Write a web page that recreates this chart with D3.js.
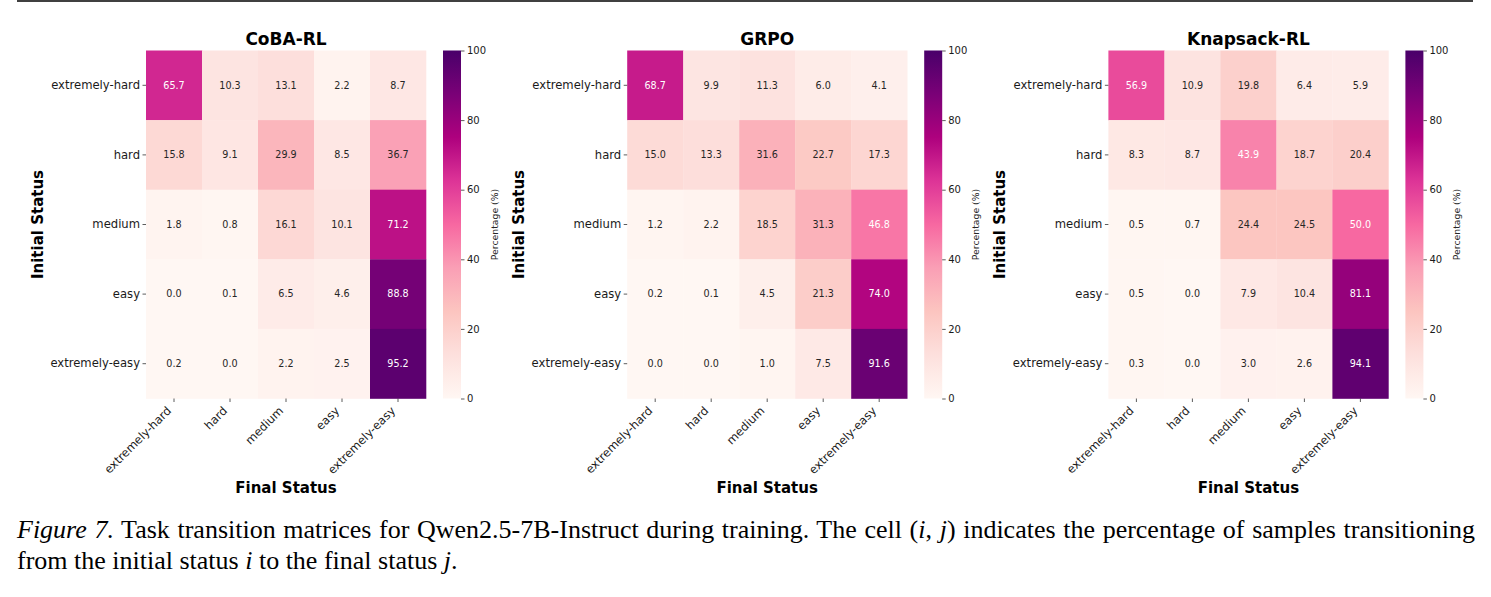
<!DOCTYPE html>
<html>
<head>
<meta charset="utf-8">
<script src="https://cdn.jsdelivr.net/npm/d3@7"></script>
<style>
  body { margin: 0; background: #fff; }
  svg { display: block; }
  .tick text { font-family: "DejaVu Sans", sans-serif; fill: #1a1a1a; }
  .tick line { stroke: #333; stroke-width: 0.8; }
</style>
</head>
<body>
<div id="chart"></div>
<script>
// ============== Data ==============
const statuses = ['extremely-hard', 'hard', 'medium', 'easy', 'extremely-easy'];
const methods = ['CoBA-RL', 'GRPO', 'Knapsack-RL'];

const cobaValues = [
  [65.7, 10.3, 13.1, 2.2, 8.7],
  [15.8, 9.1, 29.9, 8.5, 36.7],
  [1.8, 0.8, 16.1, 10.1, 71.2],
  [0.0, 0.1, 6.5, 4.6, 88.8],
  [0.2, 0.0, 2.2, 2.5, 95.2]
];
const grpoValues = [
  [68.7, 9.9, 11.3, 6.0, 4.1],
  [15.0, 13.3, 31.6, 22.7, 17.3],
  [1.2, 2.2, 18.5, 31.3, 46.8],
  [0.2, 0.1, 4.5, 21.3, 74.0],
  [0.0, 0.0, 1.0, 7.5, 91.6]
];
const knapsackValues = [
  [56.9, 10.9, 19.8, 6.4, 5.9],
  [8.3, 8.7, 43.9, 18.7, 20.4],
  [0.5, 0.7, 24.4, 24.5, 50.0],
  [0.5, 0.0, 7.9, 10.4, 81.1],
  [0.3, 0.0, 3.0, 2.6, 94.1]
];
const colorTicks = [0, 20, 40, 60, 80, 100];
const rdPu = ['#fff7f3', '#fde0dd', '#fcc5c0', '#fa9fb5', '#f768a1', '#dd3497', '#ae017e', '#7a0177', '#49006a'];

const matrices = [cobaValues, grpoValues, knapsackValues];

// ============== SVG ==============
const W = 1491, H = 597;
const svg = d3.select('#chart').append('svg')
  .attr('width', W)
  .attr('height', H);

// top rule
svg.append('line')
  .attr('x1', 17).attr('x2', 1473)
  .attr('y1', 1).attr('y2', 1)
  .attr('stroke', '#000')
  .attr('stroke-width', 1.6);

// ============== Colour ==============
const color = d3.scaleLinear()
  .domain(rdPu.map((c, i) => i * 100 / (rdPu.length - 1)))
  .range(rdPu)
  .interpolate(d3.interpolateRgb)
  .clamp(true);

function luminance(c) {
  const rgb = d3.rgb(c);
  const lin = v => {
    v /= 255;
    return v <= 0.03928 ? v / 12.92 : Math.pow((v + 0.055) / 1.055, 2.4);
  };
  return 0.2126 * lin(rgb.r) + 0.7152 * lin(rgb.g) + 0.0722 * lin(rgb.b);
}

const defs = svg.append('defs');
const grad = defs.append('linearGradient')
  .attr('id', 'cbar')
  .attr('x1', 0).attr('x2', 0)
  .attr('y1', 1).attr('y2', 0);
grad.selectAll('stop')
  .data(rdPu)
  .enter()
  .append('stop')
  .attr('offset', (d, i) => i / (rdPu.length - 1))
  .attr('stop-color', d => d);

// ============== Panels ==============
const gridTop = 50.5, gridBottom = 398.5, gridW = 280;
const firstLeft = 146, step = 481.2;

methods.forEach((name, p) => {
  const x0 = firstLeft + p * step;
  const values = matrices[p];

  const x = d3.scaleBand().domain(statuses).range([x0, x0 + gridW]);
  const y = d3.scaleBand().domain(statuses).range([gridTop, gridBottom]);

  const g = svg.append('g');

  const cells = [];
  values.forEach((row, i) => row.forEach((v, j) => cells.push({row: statuses[i], col: statuses[j], v})));

  g.selectAll('rect.cell')
    .data(cells)
    .enter()
    .append('rect')
    .attr('class', 'cell')
    .attr('x', d => x(d.col))
    .attr('y', d => y(d.row))
    .attr('width', x.bandwidth() + 0.3)
    .attr('height', y.bandwidth() + 0.3)
    .attr('fill', d => color(d.v));

  g.selectAll('text.annot')
    .data(cells)
    .enter()
    .append('text')
    .attr('class', 'annot')
    .attr('x', d => x(d.col) + x.bandwidth() / 2)
    .attr('y', d => y(d.row) + y.bandwidth() / 2)
    .attr('dy', '0.35em')
    .attr('text-anchor', 'middle')
    .style('font-family', '"DejaVu Sans", sans-serif')
    .style('font-size', '9.6px')
    .attr('fill', d => luminance(color(d.v)) > 0.408 ? '#262626' : '#ffffff')
    .text(d => d.v.toFixed(1));

  // y axis
  const yAxis = g.append('g')
    .attr('transform', `translate(${x0},0)`)
    .call(d3.axisLeft(y).tickSize(3.5).tickPadding(2.5));
  yAxis.select('.domain').remove();
  yAxis.selectAll('text').style('font-size', '11.6px');

  // x axis
  const xAxis = g.append('g')
    .attr('transform', `translate(0,${gridBottom})`)
    .call(d3.axisBottom(x).tickSize(3.5));
  xAxis.select('.domain').remove();
  xAxis.selectAll('text')
    .style('font-size', '11.6px')
    .attr('y', 0).attr('dy', 0)
    .attr('text-anchor', 'end')
    .attr('transform', 'translate(-2,13) rotate(-45)');

  // titles
  g.append('text')
    .attr('x', x0 + gridW / 2)
    .attr('y', 44.5)
    .attr('text-anchor', 'middle')
    .style('font-family', '"DejaVu Sans", sans-serif')
    .style('font-weight', 'bold')
    .style('font-size', '17px')
    .text(name);

  g.append('text')
    .attr('x', x0 + gridW / 2)
    .attr('y', 493)
    .attr('text-anchor', 'middle')
    .style('font-family', '"DejaVu Sans", sans-serif')
    .style('font-weight', 'bold')
    .style('font-size', '15px')
    .text('Final Status');

  g.append('text')
    .attr('transform', `translate(${x0 - 103.5},${(gridTop + gridBottom) / 2}) rotate(-90)`)
    .attr('text-anchor', 'middle')
    .style('font-family', '"DejaVu Sans", sans-serif')
    .style('font-weight', 'bold')
    .style('font-size', '15px')
    .text('Initial Status');

  // colorbar
  const cx = x0 + gridW + 17, cw = 18;
  const cScale = d3.scaleLinear().domain([0, 100]).range([gridBottom, gridTop]);
  g.append('rect')
    .attr('x', cx).attr('y', gridTop)
    .attr('width', cw).attr('height', gridBottom - gridTop)
    .attr('fill', 'url(#cbar)');
  const cAxis = g.append('g')
    .attr('transform', `translate(${cx + cw},0)`)
    .call(d3.axisRight(cScale).tickValues(colorTicks).tickSize(3.5).tickPadding(2.5).tickFormat(d3.format('d')));
  cAxis.select('.domain').remove();
  cAxis.selectAll('text').style('font-size', '10px');

  g.append('text')
    .attr('transform', `translate(${cx + cw + 37},${(gridTop + gridBottom) / 2}) rotate(-90)`)
    .attr('text-anchor', 'middle')
    .style('font-family', '"DejaVu Sans", sans-serif')
    .style('font-size', '9.3px')
    .attr('fill', '#262626')
    .text('Percentage (%)');
});

// ============== Caption ==============
const capFont = '"Liberation Serif", "Times New Roman", serif';
const cap1 = svg.append('text')
  .attr('x', 17).attr('y', 538)
  .style('font-family', capFont)
  .style('font-size', '26px')
  .attr('fill', '#000');
cap1.append('tspan').style('font-style', 'italic').text('Figure 7.');
cap1.append('tspan').text(' Task transition matrices for Qwen2.5-7B-Instruct during training. The cell (');
cap1.append('tspan').style('font-style', 'italic').text('i');
cap1.append('tspan').text(', ');
cap1.append('tspan').style('font-style', 'italic').text('j');
cap1.append('tspan').text(') indicates the percentage of samples transitioning');

// justify line 1 by word spacing
const natural = cap1.node().getComputedTextLength();
const spaces = cap1.text().split(' ').length - 1;
cap1.style('word-spacing', ((1475 - 17 - natural) / spaces) + 'px');

const cap2 = svg.append('text')
  .attr('x', 17).attr('y', 569)
  .style('font-family', capFont)
  .style('font-size', '26px')
  .attr('fill', '#000');
cap2.append('tspan').text('from the initial status ');
cap2.append('tspan').style('font-style', 'italic').text('i');
cap2.append('tspan').text(' to the final status ');
cap2.append('tspan').style('font-style', 'italic').text('j');
cap2.append('tspan').text('.');
</script>
</body>
</html>
